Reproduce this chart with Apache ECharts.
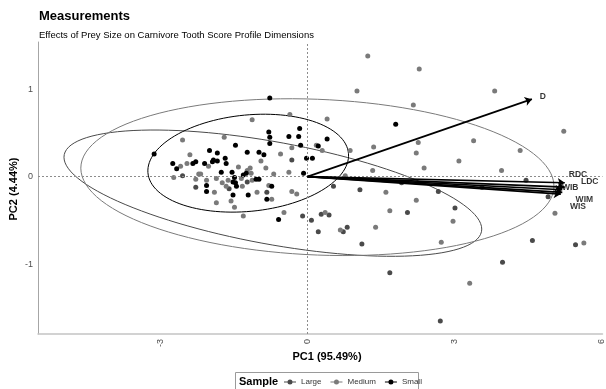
<!DOCTYPE html>
<html><head><meta charset="utf-8">
<script src="https://cdn.jsdelivr.net/npm/echarts@6/dist/echarts.min.js"></script>
<style>html,body{margin:0;padding:0;background:#fff}#c{width:606px;height:389px}</style>
</head><body><div id="c"></div>
<script>
// ---- data (PC scores) ----
const groups = ['Large', 'Medium', 'Small'];
const groupColors = ['#4a4a4a', '#7a7a7a', '#000000'];

const largePoints = [
  [-0.10,-0.45],[0.08,-0.50],[0.28,-0.43],[0.44,-0.44],[0.22,-0.63],[0.73,-0.63],[0.81,-0.58],
  [1.11,-0.77],[2.04,-0.41],[3.01,-0.36],[1.68,-1.10],[3.98,-0.98],[4.59,-0.73],[5.47,-0.78],
  [2.71,-1.65],[4.91,-0.23],[-2.55,0.01],[-1.60,-0.14],[-1.23,-0.06],[-0.83,-0.18],[-0.32,0.19],
  [-2.28,-0.12],[0.53,-0.11],[1.07,-0.15],[1.92,-0.07],[2.67,-0.17],[3.56,-0.12],[4.46,-0.04]
];
const mediumPoints = [
  [-2.55,0.42],[-2.59,0.12],[-2.40,0.25],[-2.46,0.15],[-2.73,-0.01],[-2.22,0.03],[-2.18,0.03],
  [-2.28,-0.03],[-2.06,-0.04],[-1.90,-0.18],[-2.02,0.12],[-1.86,-0.02],[-1.74,-0.07],[-1.66,-0.11],
  [-1.62,-0.04],[-1.56,-0.28],[-1.49,-0.35],[-1.86,-0.30],[-1.41,0.11],[-1.35,-0.02],[-1.23,0.07],
  [-1.15,0.04],[-1.17,0.10],[-1.33,-0.11],[-1.13,-0.04],[-0.95,0.18],[-0.85,0.10],[-1.03,-0.18],
  [-1.31,-0.45],[-0.79,-0.10],[-0.73,-0.26],[-0.69,0.03],[-0.55,0.26],[-0.32,0.33],[-0.38,0.05],
  [-0.32,-0.17],[-0.22,-0.20],[-0.48,-0.41],[0.18,0.36],[-1.70,0.45],[0.30,0.30],[-0.36,0.71],
  [-1.13,0.65],[0.40,0.66],
  [1.23,1.38],[2.28,1.23],[1.01,0.98],[3.82,0.98],[2.16,0.82],[5.23,0.52],[2.26,0.39],[3.39,0.41],
  [2.22,0.27],[1.35,0.34],[0.87,0.30],[4.34,0.30],[0.36,-0.41],[0.67,-0.61],[1.39,-0.58],
  [1.68,-0.39],[2.22,-0.27],[2.97,-0.51],[2.73,-0.75],[3.31,-1.22],[5.05,-0.42],[5.64,-0.76],
  [0.77,0.01],[1.33,0.07],[1.60,-0.18],[2.38,0.10],[3.09,0.18],[3.96,0.07]
];
const smallPoints = [
  [-3.13,0.26],[-2.75,0.15],[-2.67,0.09],[-2.34,0.15],[-2.28,0.17],[-2.06,-0.10],[-2.06,-0.17],
  [-2.00,0.30],[-2.10,0.15],[-1.94,0.17],[-1.92,0.19],[-1.84,0.18],[-1.84,0.27],[-1.68,0.21],
  [-1.66,0.15],[-1.76,0.05],[-1.54,0.05],[-1.49,-0.01],[-1.52,-0.06],[-1.47,-0.07],[-1.45,-0.11],
  [-1.52,-0.21],[-1.47,0.36],[-1.31,0.02],[-1.25,0.04],[-1.05,-0.03],[-0.99,-0.03],[-1.23,0.28],
  [-0.99,0.28],[-0.89,0.25],[-1.21,-0.21],[-0.73,-0.11],[-0.83,-0.26],[-0.59,-0.49],[-0.14,0.36],
  [-0.18,0.46],[-0.38,0.46],[-0.08,0.04],[-0.79,0.51],[-0.77,0.45],[-0.77,0.38],[-0.16,0.55],
  [0.40,0.43],[0.22,0.35],[-0.02,0.21],[0.10,0.21],[1.80,0.60],[-0.77,0.90]
];

// 95% ellipse parameters per group: centre, two conjugate semi-axis vectors
const ellipseCenters = [[-0.707,-0.189],[0.202,-0.006],[-1.21,0.154]];
const ellipseAxisA   = [[4.263,-0.411],[4.828,-0.103],[2.04,0.137]];
const ellipseAxisB   = [[0.0,0.594],[0.0,0.891],[0.182,-0.543]];

// variable loadings (arrows) and label positions
const loadingNames = ['D','RDC','LDC','WIB','WIM','WIS'];
const loadingEnds  = [[4.58,0.886],[5.25,-0.07],[5.25,-0.12],[5.20,-0.15],[5.20,-0.18],[5.17,-0.20]];
const labelPos     = [[4.80,0.92],[5.52,0.02],[5.76,-0.06],[5.36,-0.13],[5.65,-0.26],[5.52,-0.34]];

const xTicks = [-3, 0, 3, 6];
const yTicks = [-1, 0, 1];

// ---- build ----
const FONT = "'Liberation Sans', Arial, sans-serif";
function ellipsePath(c, a, b) {
  const pts = [];
  for (let i = 0; i <= 120; i++) {
    const t = i / 120 * Math.PI * 2;
    pts.push([c[0] + a[0]*Math.cos(t) + b[0]*Math.sin(t), c[1] + a[1]*Math.cos(t) + b[1]*Math.sin(t)]);
  }
  return pts;
}
const pointSets = [largePoints, mediumPoints, smallPoints];
const series = [];
groups.forEach((g, i) => {
  series.push({
    name: g, type: 'line', data: ellipsePath(ellipseCenters[i], ellipseAxisA[i], ellipseAxisB[i]),
    showSymbol: false, symbol: 'none', smooth: false, silent: true,
    lineStyle: { color: groupColors[i], width: 1 }, itemStyle: { color: groupColors[i] }, z: 3
  });
});
groups.forEach((g, i) => {
  series.push({
    name: g, type: 'scatter', data: pointSets[i], symbolSize: 5,
    itemStyle: { color: groupColors[i], opacity: 1 }, z: 4
  });
});
series.push({
  type: 'line', data: [], silent: true,
  markLine: {
    silent: true, symbol: 'none', label: { show: false },
    lineStyle: { color: '#8c8c8c', type: [2, 2], width: 1 },
    data: [{ xAxis: 0 }, { yAxis: 0 }]
  }
});
series.push({
  type: 'lines', coordinateSystem: 'cartesian2d', silent: true, z: 6,
  symbol: ['none', 'arrow'], symbolSize: 7,
  lineStyle: { color: '#000', width: 1.7, opacity: 1 },
  data: loadingEnds.map(e => ({ coords: [[0, 0], e] }))
});
series.push({
  type: 'scatter', silent: true, symbolSize: 1, itemStyle: { color: 'rgba(0,0,0,0)' }, z: 7,
  data: labelPos.map((p, i) => ({ value: p, name: loadingNames[i] })),
  label: { show: true, position: 'inside', formatter: p => p.name, color: '#000',
           fontWeight: 'bold', fontSize: 8.5, fontFamily: FONT }
});

const legendIcon = 'path://M0,4h12v1h-12z M8.5,4.5A2.5,2.5 0 1,1 3.5,4.5A2.5,2.5 0 1,1 8.5,4.5z';
const option = {
  animation: false,
  textStyle: { fontFamily: FONT },
  grid: { left: 38, right: 0, top: 42, bottom: 55 },
  xAxis: {
    type: 'value', min: -5.50, max: 6.02, splitLine: { show: false },
    axisLine: { show: true, onZero: false, lineStyle: { color: '#c4c4c4', width: 1.5 } },
    axisTick: { show: false },
    axisLabel: { customValues: xTicks, rotate: 90, fontSize: 9, color: '#4d4d4d', margin: 5, padding: [6, 0, 0, 0] }
  },
  yAxis: {
    type: 'value', min: -1.80, max: 1.54, splitLine: { show: false },
    axisLine: { show: true, onZero: false, lineStyle: { color: '#a6a6a6', width: 1 } },
    axisTick: { show: false },
    axisLabel: { customValues: yTicks, fontSize: 9, color: '#4d4d4d', margin: 5 }
  },
  legend: {
    data: groups.map(g => ({ name: g, icon: legendIcon })),
    left: 284, top: 377, padding: 0, itemWidth: 12, itemHeight: 5, itemGap: 9, selectedMode: false,
    textStyle: { fontSize: 8, color: '#333', fontFamily: FONT, lineHeight: 10 }
  },
  graphic: [
    { type: 'text', left: 39, top: 10, style: { text: 'Measurements', font: 'bold 13px ' + FONT, fill: '#000' } },
    { type: 'text', left: 39, top: 30, style: { text: 'Effects of Prey Size on Carnivore Tooth Score Profile Dimensions', font: '9.5px ' + FONT, fill: '#000' } },
    { type: 'text', x: 327, y: 357, style: { text: 'PC1 (95.49%)', font: 'bold 11px ' + FONT, fill: '#000', align: 'center', verticalAlign: 'middle' } },
    { type: 'text', x: 14, y: 189, rotation: Math.PI / 2, style: { text: 'PC2 (4.44%)', font: 'bold 11px ' + FONT, fill: '#000', align: 'center', verticalAlign: 'middle' } },
    { type: 'rect', shape: { x: 235.5, y: 372.5, width: 183, height: 24 }, style: { fill: 'none', stroke: '#9a9a9a', lineWidth: 1 } },
    { type: 'text', left: 239, top: 376, style: { text: 'Sample', font: 'bold 11px ' + FONT, fill: '#000' } }
  ],
  series: series
};
echarts.init(document.getElementById('c')).setOption(option);
</script></body></html>
